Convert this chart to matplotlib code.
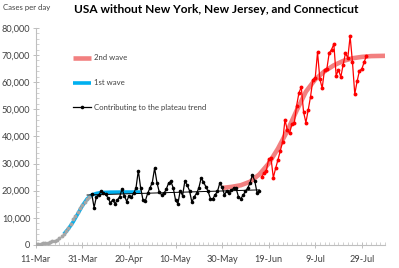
import numpy as np
import matplotlib.pyplot as plt
from matplotlib.ticker import MultipleLocator, FuncFormatter

plt.rcParams['font.family'] = ['Lato', 'DejaVu Sans']

# x axis = days since 11-Mar
tick_days = [0, 20, 40, 60, 80, 100, 120, 140]
tick_labels = ['11-Mar', '31-Mar', '20-Apr', '10-May', '30-May', '19-Jun', '9-Jul', '29-Jul']

# early phase (gray dots), days 0..23
gray_vals = [300, 350, 450, 550, 650, 800, 1000, 1300, 1600, 2000, 2500, 3200,
             4000, 5000, 6200, 7800, 9500, 10800, 12300, 13500, 14800, 16000, 17000, 17800]

# plateau (black), days 24..96
black_vals = [18700, 13800, 17800, 18500, 19700, 19000, 18600, 17300, 15500, 16600,
              15200, 16600, 17800, 20600, 18200, 16000, 18200, 17600, 19000, 21000,
              27400, 21000, 16600, 16200, 19000, 21000, 23000, 28300, 23000, 19500,
              18500, 19000, 20500, 22800, 23400, 21000, 16500, 15200, 20000, 18200,
              23500, 22000, 20000, 15800, 17700, 19000, 21000, 24700, 23200, 21500,
              19700, 17000, 17000, 18500, 19700, 22800, 21200, 18500, 19900, 19300,
              20200, 20900, 20900, 17800, 17000, 18300, 19700, 21000, 22800, 25800,
              23700, 19300, 19900]

# second wave (red), days 97..142
red_vals = [25200, 26500, 27400, 31600, 32000, 24800, 28300, 31400, 34700, 38000,
            46100, 42400, 41200, 44600, 44900, 51300, 56000, 58200, 49000, 45100,
            49800, 54700, 60900, 61500, 71000, 61100, 57800, 64600, 64900, 70700,
            72000, 74000, 62400, 64600, 61900, 66400, 70700, 68900, 76900, 67400,
            55600, 60300, 64200, 64800, 67300, 69700]

# fitted curves
wave1_days = [12, 14, 16, 18, 20, 22, 24, 26, 28, 32, 38, 45]
wave1_vals = [4000, 6000, 8500, 11500, 14500, 17000, 18400, 19000, 19300, 19450, 19500, 19500]

wave2_days = [80, 84, 88, 92, 96, 100, 104, 108, 112, 116, 120, 124, 128, 132, 136, 140, 144, 150]
wave2_vals = [21000, 21400, 22000, 23300, 26000, 30000, 35500, 42000, 49500, 56500,
              61000, 64000, 66200, 67800, 68800, 69300, 69600, 69700]

trend_days = [22, 96]
trend_vals = [18400, 20300]

gray_days = np.arange(0, len(gray_vals))
black_days = np.arange(24, 24 + len(black_vals))
red_days = np.arange(97, 97 + len(red_vals))

fig = plt.figure(figsize=(3.99, 2.68), dpi=100)
ax = fig.add_axes([0.090, 0.086, 0.875, 0.810])

ax.plot(wave2_days, wave2_vals, color='#F28080', lw=3.3, solid_capstyle='butt', label='2nd wave', zorder=2)
ax.plot(wave1_days, wave1_vals, color='#00B0F0', lw=2.6, solid_capstyle='butt', label='1st wave', zorder=2)
ax.plot(trend_days, trend_vals, color='black', lw=0.7, zorder=3)
ax.plot(gray_days, gray_vals, 'o', color='#A6A6A6', ms=2.8, mew=0, zorder=3)
ax.plot(black_days, black_vals, '-o', color='black', lw=0.9, ms=2.6, mew=0,
        label='Contributing to the plateau trend', zorder=4)
ax.plot(red_days, red_vals, '-o', color='#FF0000', lw=0.9, ms=2.8, mew=0, zorder=4)

ax.set_xlim(0, 150)
ax.set_ylim(0, 80000)
ax.set_xticks(tick_days)
ax.set_xticklabels(tick_labels)
ax.xaxis.set_minor_locator(MultipleLocator(2))
ax.yaxis.set_major_locator(MultipleLocator(10000))
ax.yaxis.set_minor_locator(MultipleLocator(2000))
ax.yaxis.set_major_formatter(FuncFormatter(lambda v, p: f'{int(v):,}'))

for s in ['top', 'right']:
    ax.spines[s].set_visible(False)
for s in ['left', 'bottom']:
    ax.spines[s].set_color('#BFBFBF')
    ax.spines[s].set_linewidth(0.8)
ax.tick_params(which='major', direction='inout', length=5, width=0.7, color='#BFBFBF',
               labelsize=6.6, labelcolor='#404040', pad=1.5)
ax.tick_params(which='minor', direction='in', length=2.5, width=0.5, color='#BFBFBF')
ax.tick_params(axis='x', which='major', pad=5)

leg = ax.legend(loc='upper left', bbox_to_anchor=(0.085, 0.91), frameon=False, fontsize=5.6,
                handlelength=2.4, labelspacing=2.3, handletextpad=0.3)
for t in leg.get_texts():
    t.set_color('#404040')

fig.text(0.541, 0.965, 'USA without New York, New Jersey, and Connecticut',
         ha='center', va='center', fontsize=8.6, fontweight='bold', color='black')
fig.text(0.008, 0.972, 'Cases per day', ha='left', va='center', fontsize=5.6, color='#404040')

fig.savefig('out.png', dpi=100)
